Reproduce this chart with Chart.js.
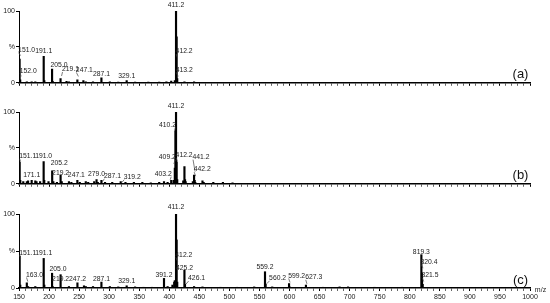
<!DOCTYPE html>
<html>
<head>
<meta charset="utf-8">
<script src="https://cdn.jsdelivr.net/npm/chart.js@4.4.1/dist/chart.umd.min.js"></script>
<style>
html,body{margin:0;padding:0;background:#fff;width:550px;height:303px;overflow:hidden;}
.panel{position:absolute;left:0;width:550px;}
</style>
</head>
<body>
<div class="panel" style="top:0px;height:88px"><canvas id="ca" width="550" height="88"></canvas></div>
<div class="panel" style="top:101px;height:88px"><canvas id="cb" width="550" height="88"></canvas></div>
<div class="panel" style="top:203px;height:101px"><canvas id="cc" width="550" height="101"></canvas></div>
<script>
// ---------- data ----------
const xTickLabels = [150,200,250,300,350,400,450,500,550,600,650,700,750,800,850,900,950,1000];
const yTickLabels = {0:'0', 50:'%', 100:'100'};
const panelTags = ['(a)','(b)','(c)'];
const xUnit = 'm/z';

// Panel (a)
const aMz  = [151.0,152.0,163.0,171.1,177.1,191.1,192.1,205.0,206.0,219.1,229.1,233.1,247.1,257.1,261.1,273.1,287.1,301.1,315.1,329.1,343.1,365.1,383.2,395.2,403.2,409.2,411.2,412.2,413.2,425.2,441.2];
const aInt = [33,4,1.5,1.5,1.5,37,3,19,2,6,2,1.5,4,3,1.5,1.5,7,1.5,1,3,1,1,1,1.5,2.5,3,100,64,6,1.5,1.5];
const aLabels = ['151.0','152.0','191.1','205.0','219.1','247.1','287.1','329.1','411.2','412.2','413.2'];

// Panel (b)
const bMz  = [151.1,152.1,157.1,163.1,165.1,171.1,177.1,179.1,185.1,191.0,192.0,199.1,205.2,207.1,213.1,219.2,221.1,233.1,237.1,247.1,251.1,261.1,265.1,275.1,279.0,281.1,287.1,293.1,305.1,319.2,327.1,341.1,355.2,369.2,383.2,391.2,397.2,403.2,407.2,409.2,410.2,411.2,412.2,413.2,423.2,425.2,426.2,427.2,439.2,441.2,442.2,443.2,455.2,457.2,473.2,489.2,505.2];
const bInt = [30,5,3,3,4,5,4,3,3,31,5,3,18,3,2,12,3,3,2,5,2,3,2,3,6,2,5,2,2,3,2,2,2,1.5,2,3,2,5,5,22,73,100,30,6,4,24,6,3,3,12,5,2,4,2,2,2,1.5];
const bLabels = ['151.1','171.1','191.0','205.2','219.2','247.1','279.0','287.1','319.2','403.2','409.2','410.2','411.2','412.2','441.2','442.2'];

// Panel (c)
const cMz  = [151.1,152.1,163.0,165.1,177.1,191.1,192.1,205.0,206.0,219.2,233.1,247.2,258.1,261.1,273.1,287.1,301.1,315.1,329.1,343.1,357.1,371.1,391.2,397.2,405.2,408.2,409.2,411.2,412.2,413.2,425.2,426.1,441.2,455.2,485.2,513.2,541.2,559.2,560.2,571.2,599.2,600.2,627.3,655.3,683.3,697.3,741.3,787.3,819.3,820.4,821.5];
const cInt = [43,4,7,2,2,40,4,20,2,18,2,7,3,2,2,8,2,1.5,3,1.5,1,1,13,2,4,8,10,100,65,8,24,5,2,1.5,1,1,1.5,22,5,1.5,6,1.5,4,1,1.5,1.5,1,1,45,20,5];
const cLabels = ['151.1','163.0','191.1','205.0','219.2','247.2','287.1','329.1','391.2','411.2','412.2','425.2','426.1','559.2','560.2','599.2','627.3','819.3','820.4','821.5'];

// ---------- label placement (styling: text offset from peak top in px, leader length) ----------
const labelLayoutA = {'151.0':[7,-9,3],'152.0':[8,-9,3],'191.1':[0,-5,0],'205.0':[7,-4,0],'219.1':[10,-9,4],'247.1':[7,-10,4],'287.1':[0,-4,0],'329.1':[0,-4.5,0],'411.2':[0,-6,0],'412.2':[7.5,14.7,4],'413.2':[7,-8.6,4]};
const labelLayoutB = {'151.1':[8,-6,3],'171.1':[0,-4.7,0],'191.0':[0,-5,0],'205.2':[7,-7.5,0],'219.2':[0,-2,0],'247.1':[-1,-4.6,0],'279.0':[0,-5.5,0],'287.1':[11,-4,3],'319.2':[11.5,-4.5,3],'403.2':[-8,-6,3],'409.2':[-7.5,-10.6,4],'410.2':[-8,-6.7,4],'411.2':[0,-6,0],'412.2':[7.5,-7,4],'441.2':[7,-18,12],'442.2':[7.5,-10.6,4]};
const labelLayoutC = {'151.1':[8,-3.5,3],'163.0':[7.7,-7.8,4],'191.1':[0,-5.7,0],'205.0':[6,-4,0],'219.2':[0,4.6,0],'247.2':[0,-3.5,0],'287.1':[0,-3,0],'329.1':[0,-5,0],'391.2':[0,-3.4,0],'411.2':[0,-6.7,0],'412.2':[7.2,15,4],'425.2':[0,-2.5,0],'426.1':[11.6,-5.7,3],'559.2':[0,-4.4,0],'560.2':[12,-6,3],'599.2':[7.6,-7.6,4],'627.3':[7.8,-7.7,4],'819.3':[0,-3,0],'820.4':[7,-11.5,4],'821.5':[7.3,-9.3,4]};

// ---------- chart ----------
const FONT = "'Liberation Sans', Arial, sans-serif";
Chart.defaults.font.family = FONT;

const xMinor = [];
for (let v = 150; v <= 1000; v += 10) xMinor.push(v);

function peakLabelPlugin(mz, inten, labels, layout, tag, showUnit) {
  return {
    id: 'peakLabels',
    afterDatasetsDraw(chart) {
      const ctx = chart.ctx, xs = chart.scales.x, ys = chart.scales.y;
      ctx.save();
      ctx.font = '6.8px ' + FONT;
      ctx.fillStyle = '#222';
      ctx.strokeStyle = '#444';
      ctx.lineWidth = 0.7;
      ctx.textAlign = 'center';
      ctx.textBaseline = 'middle';
      labels.forEach(t => {
        const m = parseFloat(t);
        const i = mz.findIndex(v => Math.abs(v - m) < 0.001);
        if (i < 0) return;
        const bx = xs.getPixelForValue(m);
        const by = ys.getPixelForValue(inten[i]);
        const [dx, dy, L] = layout[t] || [0, -5, 0];
        const cx = bx + dx, cy = by + dy;
        ctx.fillText(t, cx, cy);
        if (L > 0) {
          const w = ctx.measureText(t).width;
          const bottom = cy + 2.5;
          ctx.beginPath();
          if (dx >= 0) {
            ctx.moveTo(cx - w / 2 + 0.5, bottom);
            ctx.lineTo(bx + 1, bottom + L);
          } else {
            ctx.moveTo(cx + w / 2 - 0.5, bottom);
            ctx.lineTo(bx - 1, bottom + L);
          }
          ctx.stroke();
        }
      });
      const ca = chart.chartArea;
      ctx.font = '13px ' + FONT;
      ctx.fillStyle = '#111';
      ctx.fillText(tag, ca.right - 9.5, ca.bottom - 8);
      if (showUnit) {
        ctx.font = '7px ' + FONT;
        ctx.fillStyle = '#222';
        ctx.fillText(xUnit, ca.right + 10.5, ca.bottom + 2);
      }
      ctx.restore();
    }
  };
}

function makePanel(id, mz, inten, labels, layout, tag, showX) {
  return new Chart(document.getElementById(id), {
    type: 'bar',
    data: {
      datasets: [{
        data: mz.map((m, i) => ({x: m, y: inten[i]})),
        backgroundColor: '#000',
        borderWidth: 0,
        barThickness: 1.5
      }]
    },
    options: {
      responsive: false,
      animation: false,
      devicePixelRatio: 1,
      layout: {padding: {top: 11, right: 20, left: 0, bottom: 0}},
      plugins: {legend: {display: false}, tooltip: {enabled: false}},
      scales: {
        x: {
          type: 'linear', min: 150, max: 1000, offset: false,
          afterBuildTicks: s => { s.ticks = xMinor.map(v => ({value: v})); },
          afterFit: s => { s.height = showX ? 16 : 4; },
          grid: {display: true, drawOnChartArea: false, drawTicks: true, tickLength: 3, offset: false,
                 color: c => (c.tick && c.tick.value % 50 === 0) ? '#000' : '#666', lineWidth: 1},
          border: {display: true, color: '#000', width: 1.5},
          ticks: {autoSkip: false, maxRotation: 0, minRotation: 0, padding: 1.5, color: '#222',
                  font: {size: 7},
                  callback: v => (showX && xTickLabels.includes(v)) ? String(v) : ''}
        },
        y: {
          min: 0, max: 100,
          afterBuildTicks: s => { s.ticks = [0, 50, 100].map(v => ({value: v})); },
          afterFit: s => { s.width = 19; },
          grid: {display: true, drawOnChartArea: false, drawTicks: true, tickLength: 3, color: '#000'},
          border: {display: true, color: '#000', width: 1},
          ticks: {padding: 1, color: '#222', font: {size: 7}, callback: v => yTickLabels[v]}
        }
      }
    },
    plugins: [peakLabelPlugin(mz, inten, labels, layout, tag, showX)]
  });
}

makePanel('ca', aMz, aInt, aLabels, labelLayoutA, panelTags[0], false);
makePanel('cb', bMz, bInt, bLabels, labelLayoutB, panelTags[1], false);
makePanel('cc', cMz, cInt, cLabels, labelLayoutC, panelTags[2], true);
</script>
</body>
</html>
